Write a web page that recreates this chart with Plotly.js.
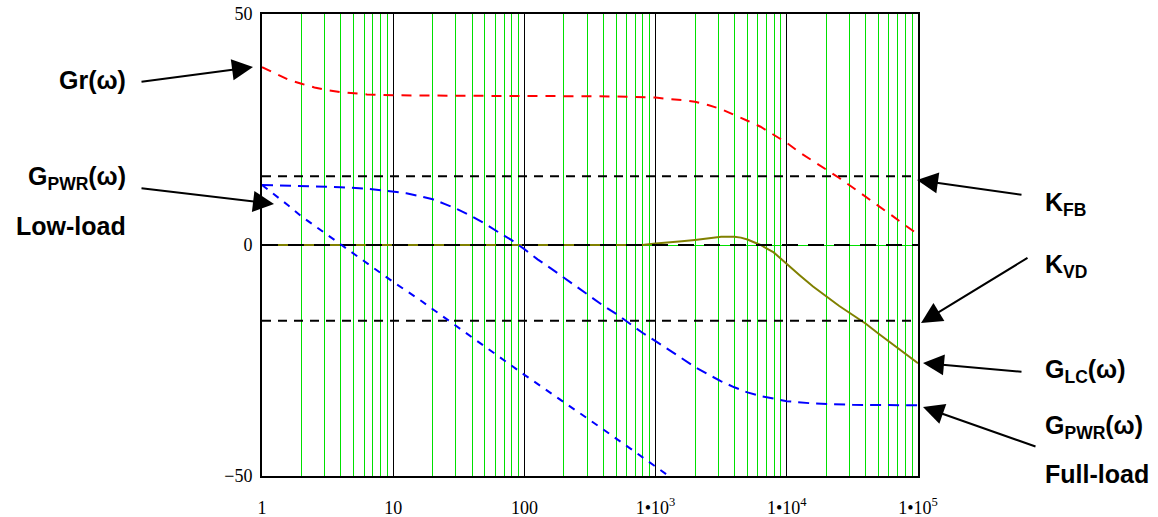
<!DOCTYPE html>
<html>
<head>
<meta charset="utf-8">
<script src="https://cdn.plot.ly/plotly-3.0.1.min.js"></script>
<style>html,body{margin:0;padding:0;background:#fff;}#chart{width:1158px;height:517px;}</style>
</head>
<body>
<div id="chart"></div>
<script>
// ---- data ----
const grW = [1, 1.26, 1.58, 2, 2.51, 3.16, 3.98, 6.31, 10, 31.6, 100, 316, 631, 1000, 1259, 1585, 1995, 2512, 3162, 3981, 5012, 6310, 7943, 10000, 12589, 15849, 19953, 25119, 31623, 39811, 50119, 63096, 79433, 100000];
const grDb = [38.5, 37.1, 35.8, 34.9, 34.1, 33.5, 33.1, 32.6, 32.4, 32.3, 32.3, 32.2, 32.1, 31.9, 31.6, 31.4, 31.0, 30.3, 29.4, 28.2, 26.9, 25.6, 23.8, 22.1, 20.0, 18.2, 16.4, 14.5, 12.5, 10.5, 8.4, 6.4, 4.3, 2.3];

const pwrLowW = [1, 1.26, 1.58, 2, 2.51, 3.16, 3.98, 5.01, 6.31, 7.94, 10, 15.8, 25.1, 39.8, 63.1, 100, 158, 251, 398, 631, 1000, 1259];
const pwrLowDb = [13.0, 10.8, 8.6, 6.2, 4.2, 2.2, 0.1, -1.9, -3.9, -5.9, -8.0, -11.8, -15.9, -20.0, -24.0, -28.1, -32.0, -35.9, -39.9, -43.9, -48.0, -50.0];

const pwrFullW = [1, 2, 3.98, 6.31, 10, 12.6, 15.8, 20, 25.1, 31.6, 39.8, 50.1, 63.1, 79.4, 100, 126, 158, 200, 251, 316, 398, 501, 631, 794, 1000, 1259, 1585, 1995, 2512, 3162, 3981, 5012, 6310, 7943, 10000, 15849, 31623, 100000];
const pwrFullDb = [13.0, 12.8, 12.5, 12.2, 11.6, 11.2, 10.6, 9.9, 8.8, 7.6, 6.2, 4.6, 2.8, 1.1, -0.9, -3.1, -5.0, -7.1, -9.1, -11.1, -13.1, -14.9, -17.0, -19.0, -20.8, -22.7, -24.6, -26.4, -28.0, -29.5, -30.8, -31.9, -32.7, -33.3, -33.8, -34.3, -34.6, -34.7];

const lcW = [1, 10, 100, 794, 1000, 1259, 1585, 1995, 2512, 3162, 3981, 4467, 5012, 5623, 6310, 7943, 10000, 12589, 15849, 19953, 25119, 31623, 39811, 50119, 63096, 79433, 100000];
const lcDb = [0, 0, 0, 0, 0.3, 0.5, 0.8, 1.1, 1.4, 1.8, 1.8, 1.6, 1.2, 0.6, 0, -1.6, -4.2, -6.6, -9.0, -11.2, -13.2, -15.1, -17.0, -19.2, -21.3, -23.4, -25.6];

const spanW = [1, 100000];
const kfbDb = [14.9, 14.9];
const kvdDb = [-16.4, -16.4];
const zeroDb = [0, 0];

const xTickVals = [1, 10, 100, 1000, 10000, 100000];
const xTickText = ['1', '10', '100', '1•10<sup>3</sup>', '1•10<sup>4</sup>', '1•10<sup>5</sup>'];
const yTickVals = [-50, 0, 50];
const yTickText = ['\u221250', '0', '50'];
const decades = [1, 10, 100, 1000, 10000];
const multiples = [2, 3, 4, 5, 6, 7, 8, 9];
const minorVals = [];
decades.forEach(d => multiples.forEach(k => minorVals.push(d * k)));

// ---- traces ----
const traces = [
  {x: [], y: [], xaxis: 'x2', yaxis: 'y', mode: 'lines', hoverinfo: 'skip'},
  {x: lcW, y: lcDb, mode: 'lines', line: {color: '#808000', width: 2}},
  {x: spanW, y: zeroDb, mode: 'lines', line: {color: '#000', width: 2, dash: '16px,10px'}},
  {x: spanW, y: kfbDb, mode: 'lines', line: {color: '#000', width: 2, dash: '9px,7px'}},
  {x: spanW, y: kvdDb, mode: 'lines', line: {color: '#000', width: 2, dash: '9px,7px'}},
  {x: grW, y: grDb, mode: 'lines', line: {color: '#ff0000', width: 2, dash: '10px,8px'}},
  {x: pwrFullW, y: pwrFullDb, mode: 'lines', line: {color: '#0000ff', width: 2, dash: '11px,7px'}},
  {x: pwrLowW, y: pwrLowDb, mode: 'lines', line: {color: '#0000ff', width: 2, dash: '7px,7px'}}
];

const L = 262, T = 14, W = 656, H = 462;
const px = v => (v - L) / W;
const py = v => (T + H - v) / H;
const lblFont = {family: 'Liberation Sans, Arial, sans-serif', size: 25, color: '#000'};

function label(text, x, y, anchor) {
  return {text: '<b>' + text + '</b>', xref: 'paper', yref: 'paper', x: px(x), y: py(y),
    xanchor: anchor, yanchor: 'middle', showarrow: false, font: lblFont};
}
function arrow(tipX, tipY, tailX, tailY) {
  return {text: '', xref: 'paper', yref: 'paper', x: px(tipX), y: py(tipY),
    ax: tailX - tipX, ay: tailY - tipY, showarrow: true, arrowhead: 2, arrowsize: 2.1,
    arrowwidth: 2, arrowcolor: '#000', standoff: 0, startstandoff: 0};
}

const annotations = [
  label('Gr(ω)', 128, 80, 'right'),
  label('G<sub>PWR</sub>(ω)', 128, 178, 'right'),
  label('Low-load', 128, 226, 'right'),
  label('K<sub>FB</sub>', 1043, 204, 'left'),
  label('K<sub>VD</sub>', 1043, 266, 'left'),
  label('G<sub>LC</sub>(ω)', 1043, 371, 'left'),
  label('G<sub>PWR</sub>(ω)', 1043, 427, 'left'),
  label('Full-load', 1043, 474, 'left'),
  arrow(253, 67, 140, 82),
  arrow(274, 204, 140, 188),
  arrow(917, 180, 1023, 195),
  arrow(921, 323, 1029, 257),
  arrow(923, 363, 1023, 372),
  arrow(923, 407, 1037, 447)
];

const tickFont = {family: 'Liberation Serif, Times New Roman, serif', size: 18, color: '#000'};

const layout = {
  width: 1158, height: 517,
  margin: {l: L, r: 1158 - L - W, t: T, b: 517 - T - H, pad: 0},
  paper_bgcolor: '#fff', plot_bgcolor: '#fff',
  showlegend: false,
  xaxis: {
    type: 'log', range: [0, 5], tickmode: 'array', tickvals: xTickVals, ticktext: xTickText,
    showgrid: true, gridcolor: '#000', gridwidth: 1,
    showline: true, linecolor: '#000', linewidth: 2, mirror: true, ticks: '', zeroline: false,
    tickfont: tickFont, ticklabelstandoff: 14
  },
  xaxis2: {
    type: 'log', range: [0, 5], overlaying: 'x', anchor: 'y', side: 'bottom',
    tickmode: 'array', tickvals: minorVals, showticklabels: false,
    showgrid: true, gridcolor: '#00e000', gridwidth: 1,
    showline: false, ticks: '', zeroline: false
  },
  yaxis: {
    range: [-50, 50], tickmode: 'array', tickvals: yTickVals, ticktext: yTickText,
    showgrid: true, gridcolor: '#00e000', gridwidth: 1,
    showline: true, linecolor: '#000', linewidth: 2, mirror: true, ticks: '', zeroline: false,
    tickfont: tickFont, ticklabelstandoff: 4
  },
  annotations: annotations
};

Plotly.newPlot('chart', traces, layout, {staticPlot: true, displayModeBar: false});
</script>
</body>
</html>
